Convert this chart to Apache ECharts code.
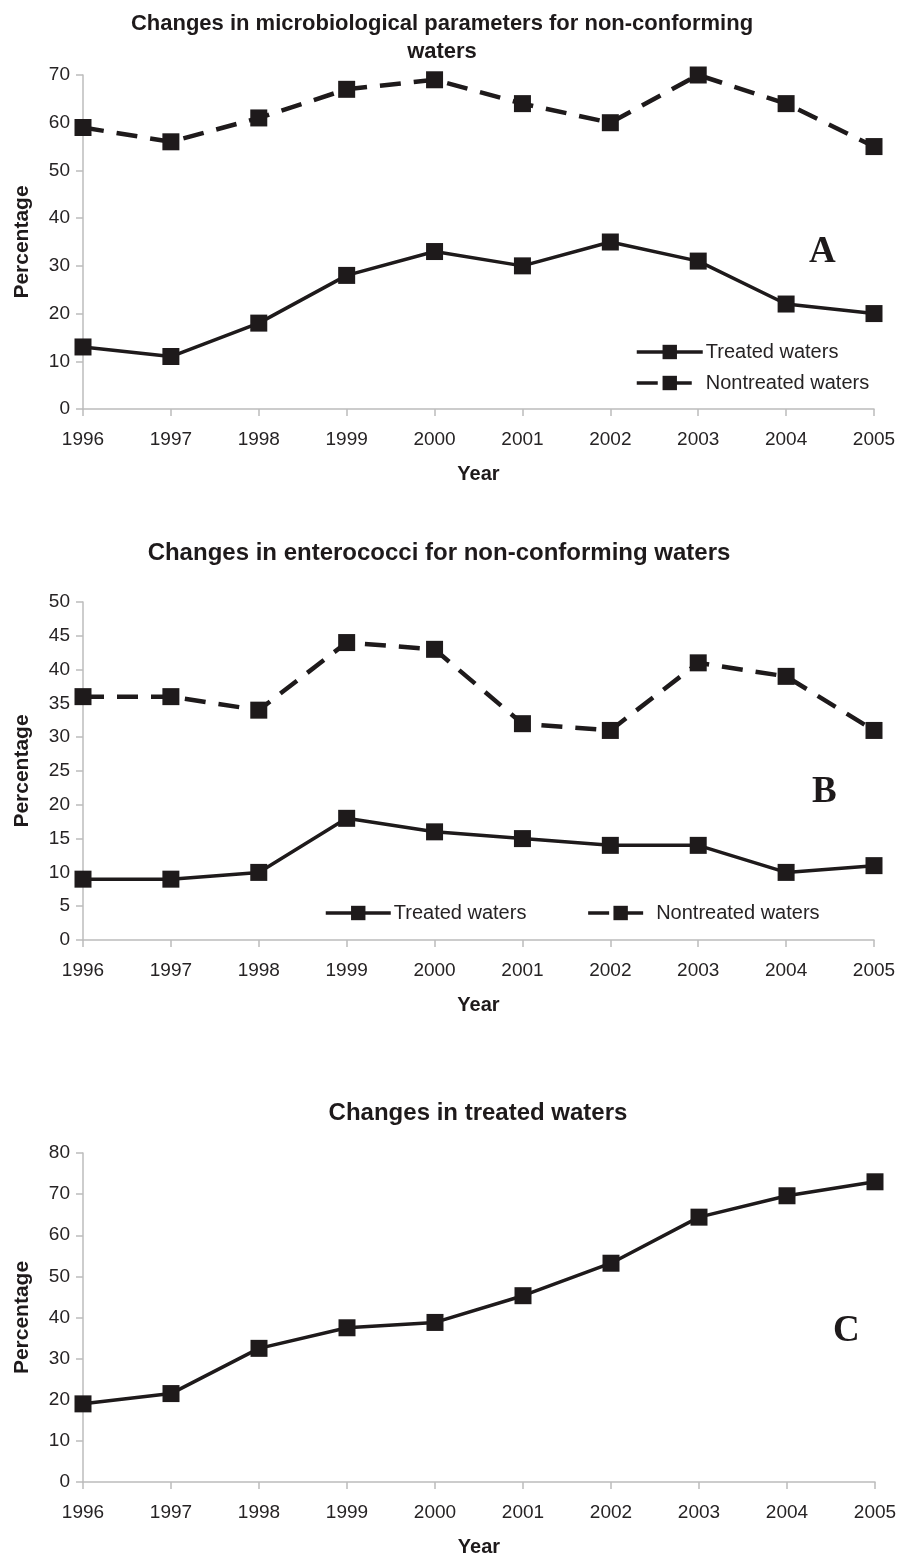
<!DOCTYPE html>
<html>
<head>
<meta charset="utf-8">
<script src="https://cdn.jsdelivr.net/npm/echarts@6/dist/echarts.min.js"></script>
<style>
html,body{margin:0;padding:0;background:#fff;}
#c{width:912px;height:1558px;}
</style>
</head>
<body>
<div id="c"></div>
<script>
const years = ['1996','1997','1998','1999','2000','2001','2002','2003','2004','2005'];
const aTreated = [13, 11, 18, 28, 33, 30, 35, 31, 22, 20];
const aNontreated = [59, 56, 61, 67, 69, 64, 60, 70, 64, 55];
const bTreated = [9, 9, 10, 18, 16, 15, 14, 14, 10, 11];
const bNontreated = [36, 36, 34, 44, 43, 32, 31, 41, 39, 31];
const cTreated = [19, 21.5, 32.5, 37.5, 38.8, 45.3, 53.2, 64.4, 69.6, 73];
const titleA = 'Changes in microbiological parameters for non-conforming\nwaters';
const titleB = 'Changes in enterococci for non-conforming waters';
const titleC = 'Changes in treated waters';
const yA = {min: 0, max: 70, interval: 10};
const yB = {min: 0, max: 50, interval: 5};
const yC = {min: 0, max: 80, interval: 10};

const INK = '#1e1a1b';
const TXT = '#262324';
const AX = '#bcbcbc';
const FONT = 'Liberation Sans, Arial, sans-serif';

const chart = echarts.init(document.getElementById('c'), null, {renderer: 'canvas'});

function xAxis(gi) {
  return {
    type: 'category', gridIndex: gi, data: years, boundaryGap: false,
    name: 'Year', nameLocation: 'middle', nameGap: 55,
    nameTextStyle: {fontFamily: FONT, fontWeight: 'bold', fontSize: 20, color: INK},
    axisLine: {lineStyle: {color: AX, width: 1.5}},
    axisTick: {alignWithLabel: true, length: 7, lineStyle: {color: AX, width: 1.5}},
    axisLabel: {fontFamily: FONT, fontSize: 19, color: TXT, margin: 21},
    splitLine: {show: false}
  };
}
function yAxis(gi, s) {
  return {
    type: 'value', gridIndex: gi, min: s.min, max: s.max, interval: s.interval,
    name: 'Percentage', nameLocation: 'middle', nameGap: 50, nameRotate: 90,
    nameTextStyle: {fontFamily: FONT, fontWeight: 'bold', fontSize: 21, color: INK},
    axisLine: {show: true, lineStyle: {color: AX, width: 1.5}},
    axisTick: {show: true, length: 7, lineStyle: {color: AX, width: 1.5}},
    axisLabel: {fontFamily: FONT, fontSize: 19, color: TXT, margin: 13},
    splitLine: {show: false}
  };
}
function solid(name, data, gi) {
  return {
    name: name, type: 'line', xAxisIndex: gi, yAxisIndex: gi, data: data,
    symbol: 'rect', symbolSize: 17, showAllSymbol: true,
    lineStyle: {color: INK, width: 3.5, type: 'solid'},
    itemStyle: {color: INK},
    emphasis: {disabled: true}, animation: false
  };
}
function dashed(name, data, gi) {
  return {
    name: name, type: 'line', xAxisIndex: gi, yAxisIndex: gi, data: data,
    symbol: 'rect', symbolSize: 17, showAllSymbol: true,
    lineStyle: {color: INK, width: 4.5, type: [21, 13]},
    itemStyle: {color: INK},
    emphasis: {disabled: true}, animation: false
  };
}

const option = {
  backgroundColor: '#fff',
  animation: false,
  title: [
    {text: titleA, left: 437, top: 5, textAlign: 'center',
     textStyle: {fontFamily: FONT, fontWeight: 'bold', fontSize: 22, lineHeight: 28, color: INK}},
    {text: titleB, left: 434, top: 536, textAlign: 'center',
     textStyle: {fontFamily: FONT, fontWeight: 'bold', fontSize: 24, color: INK}},
    {text: titleC, left: 473, top: 1096, textAlign: 'center',
     textStyle: {fontFamily: FONT, fontWeight: 'bold', fontSize: 24, color: INK}}
  ],
  legend: [
    {data: ['Treated waters', 'Nontreated waters'], orient: 'vertical', left: 630, top: 337,
     itemWidth: 66, itemHeight: 18, itemGap: 11, selectedMode: false,
     lineStyle: {width: 3.5},
     textStyle: {fontFamily: FONT, fontSize: 20, color: TXT, padding: [0, 0, 0, -2]}},
    {data: ['Treated waters', 'Nontreated waters'], orient: 'horizontal', left: 319, top: 898,
     itemWidth: 65, itemHeight: 18, itemGap: 60, selectedMode: false,
     lineStyle: {width: 3.5},
     textStyle: {fontFamily: FONT, fontSize: 20, color: TXT, padding: [0, 0, 0, -2]}}
  ],
  grid: [
    {left: 83, width: 791, top: 75, height: 334},
    {left: 83, width: 791, top: 602, height: 338},
    {left: 83, width: 792, top: 1153, height: 332}
  ],
  xAxis: [xAxis(0), xAxis(1), xAxis(2)],
  yAxis: [yAxis(0, yA), yAxis(1, yB), yAxis(2, yC)],
  series: [
    solid('Treated waters', aTreated, 0),
    dashed('Nontreated waters', aNontreated, 0),
    solid('Treated waters', bTreated, 1),
    dashed('Nontreated waters', bNontreated, 1),
    solid('Treated waters C', cTreated, 2)
  ],
  graphic: [
    {type: 'text', left: 809, top: 234, style: {text: 'A', font: 'bold 37px "Liberation Serif", "Times New Roman", serif', fill: INK}},
    {type: 'text', left: 812, top: 774, style: {text: 'B', font: 'bold 37px "Liberation Serif", "Times New Roman", serif', fill: INK}},
    {type: 'text', left: 833, top: 1313, style: {text: 'C', font: 'bold 37px "Liberation Serif", "Times New Roman", serif', fill: INK}}
  ]
};
chart.setOption(option);
</script>
</body>
</html>
